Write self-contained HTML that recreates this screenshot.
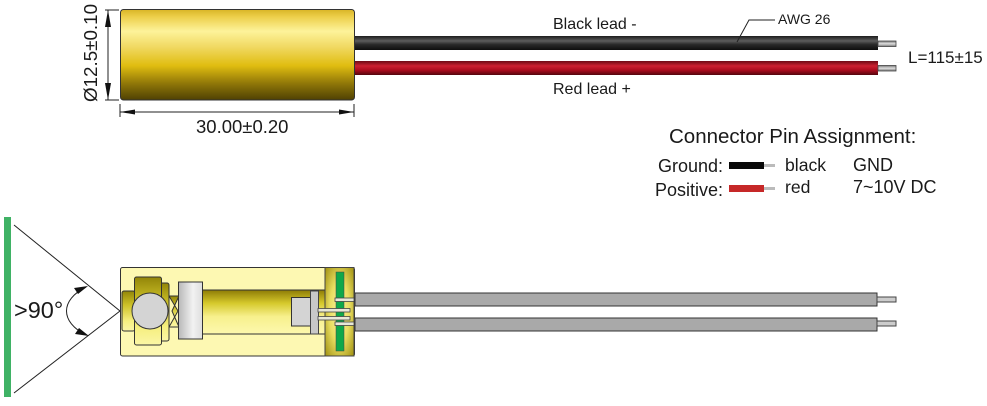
<!DOCTYPE html>
<html>
<head>
<meta charset="utf-8">
<style>
html,body{margin:0;padding:0;background:#fff;width:987px;height:406px;overflow:hidden}
svg{display:block}
text{font-family:"Liberation Sans",sans-serif;fill:#1a1a1a}
</style>
</head>
<body>
<svg width="987" height="406" viewBox="0 0 987 406" xmlns="http://www.w3.org/2000/svg">
<defs>
<linearGradient id="brass" x1="0" y1="0" x2="0" y2="1">
<stop offset="0" stop-color="#d9b526"/><stop offset=".08" stop-color="#edcf4a"/><stop offset=".24" stop-color="#fdf39a"/><stop offset=".42" stop-color="#f0d860"/><stop offset=".62" stop-color="#e0bd10"/><stop offset=".82" stop-color="#8f7608"/><stop offset="1" stop-color="#4f4103"/>
</linearGradient>
<linearGradient id="blk" x1="0" y1="0" x2="0" y2="1">
<stop offset="0" stop-color="#1c1c1c"/><stop offset=".35" stop-color="#5c5c5c"/><stop offset=".6" stop-color="#2a2a2a"/><stop offset="1" stop-color="#0e0e0e"/>
</linearGradient>
<linearGradient id="red" x1="0" y1="0" x2="0" y2="1">
<stop offset="0" stop-color="#6c0a14"/><stop offset=".35" stop-color="#cc2030"/><stop offset=".65" stop-color="#ac0c1e"/><stop offset="1" stop-color="#54060e"/>
</linearGradient>
<linearGradient id="tip" x1="0" y1="0" x2="0" y2="1">
<stop offset="0" stop-color="#777"/><stop offset=".5" stop-color="#ddd"/><stop offset="1" stop-color="#777"/>
</linearGradient>
<linearGradient id="tube" x1="0" y1="0" x2="0" y2="1">
<stop offset="0" stop-color="#8d7b06"/><stop offset=".3" stop-color="#d6c92c"/><stop offset=".6" stop-color="#f7f08c"/><stop offset="1" stop-color="#fdf8ae"/>
</linearGradient>
<linearGradient id="part" x1="0" y1="0" x2="0" y2="1">
<stop offset="0" stop-color="#928508"/><stop offset=".35" stop-color="#cdc128"/><stop offset=".75" stop-color="#f6ef80"/><stop offset="1" stop-color="#fbf6a6"/>
</linearGradient>
<linearGradient id="cyl" x1="0" y1="0" x2="1" y2="0">
<stop offset="0" stop-color="#b8b8b8"/><stop offset=".6" stop-color="#f2f2f2"/><stop offset="1" stop-color="#dedede"/>
</linearGradient>
<radialGradient id="cap" cx=".5" cy=".5" r=".7">
<stop offset="0" stop-color="#fbf4a0"/><stop offset=".5" stop-color="#e8dd60"/><stop offset="1" stop-color="#a09010"/>
</radialGradient>
</defs>

<!-- top wires -->
<rect x="354" y="36" width="524" height="14" fill="url(#blk)"/>
<rect x="354" y="61" width="524" height="14" fill="url(#red)"/>
<rect x="878" y="41" width="18" height="5.500" fill="url(#tip)" stroke="#444" stroke-width=".8"/>
<rect x="878" y="65.500" width="18" height="5.500" fill="url(#tip)" stroke="#444" stroke-width=".8"/>

<!-- top body -->
<rect x="120.500" y="9.500" width="234" height="90.500" rx="3" fill="url(#brass)" stroke="#333" stroke-width="1"/>

<!-- dimensions -->
<g stroke="#222" stroke-width="1" fill="none">
<path d="M105 10H119M105 100H119M108 10V100"/>
<path d="M120 104V117M354 104V117M120 112H354"/>
</g>
<g fill="#111">
<path d="M108 10L105 27H111Z"/>
<path d="M108 100L105 83H111Z"/>
<path d="M120 112L135 109.500V114.500Z"/>
<path d="M354 112L339 109.500V114.500Z"/>
</g>
<text transform="translate(97,102) rotate(-90)" font-size="18.800">Ø12.5±0.10</text>
<text x="196" y="133" font-size="18.500">30.00±0.20</text>

<!-- wire labels -->
<text x="553" y="29" font-size="16">Black lead -</text>
<text x="553" y="94" font-size="16">Red lead +</text>
<path d="M737 42L749 20H775" stroke="#222" stroke-width="1" fill="none"/>
<text x="778" y="24" font-size="14">AWG 26</text>
<text x="908" y="63" font-size="17">L=115±15</text>

<!-- pin assignment -->
<text x="669" y="143" font-size="20.500">Connector Pin Assignment:</text>
<text x="658" y="172" font-size="18">Ground:</text>
<text x="655" y="196" font-size="18">Positive:</text>
<rect x="729" y="162" width="35" height="7" fill="#080808"/>
<rect x="764" y="164" width="11" height="3" fill="#bbb"/>
<rect x="729" y="185" width="35" height="7" fill="#c62828"/>
<rect x="764" y="187" width="11" height="3" fill="#bbb"/>
<text x="785" y="171" font-size="17.600">black</text>
<text x="785" y="193" font-size="17.600">red</text>
<text x="853" y="171" font-size="18">GND</text>
<text x="853" y="193" font-size="18">7~10V DC</text>

<!-- beam -->
<rect x="4" y="217" width="7" height="180" fill="#3fb265"/>
<path d="M14 225L120 311L14 393" stroke="#222" stroke-width="1" fill="none"/>
<path d="M86 287C60 300 60 322 86 335" stroke="#222" stroke-width="1" fill="none"/>
<path d="M88 286L74 288L78 294Z" fill="#111"/>
<path d="M89 336L75 334L79 328Z" fill="#111"/>
<text x="14" y="318" font-size="23.500">&gt;90°</text>

<!-- lower wires -->
<rect x="355" y="293" width="522" height="13" fill="#a9a9a9" stroke="#333" stroke-width="1"/>
<rect x="355" y="318" width="522" height="13" fill="#a9a9a9" stroke="#333" stroke-width="1"/>
<rect x="877" y="297" width="19" height="5" fill="#ccc" stroke="#444" stroke-width="1"/>
<rect x="877" y="321" width="19" height="5" fill="#ccc" stroke="#444" stroke-width="1"/>

<!-- lower body -->
<rect x="120.500" y="267.500" width="234" height="88.500" rx="2" fill="#fdf8b2" stroke="#333" stroke-width="1"/>
<rect x="202" y="290" width="123" height="44" fill="url(#tube)" stroke="#333" stroke-width="1"/>
<rect x="325" y="267.500" width="29" height="88.500" fill="url(#cap)" stroke="#444" stroke-width="1"/>

<rect x="122" y="291" width="13" height="40" rx="2" fill="url(#part)" stroke="#333" stroke-width="1"/>
<rect x="169" y="296" width="10" height="31" fill="url(#part)" stroke="#333" stroke-width="1"/>
<path d="M169 296L178 311L169 327M179 296L172 311L179 327" fill="#fdf8b2" stroke="#333" stroke-width="1"/>
<rect x="160" y="283" width="9" height="58" rx="2" fill="url(#part)" stroke="#333" stroke-width="1"/>
<rect x="134.500" y="277" width="27" height="68" rx="2" fill="url(#part)" stroke="#333" stroke-width="1"/>
<circle cx="150" cy="311" r="18" fill="#d4d4d4" stroke="#333" stroke-width="1"/>
<rect x="178.500" y="282" width="24" height="57" fill="url(#cyl)" stroke="#333" stroke-width="1"/>

<rect x="291.500" y="297.500" width="19" height="28.500" fill="#d4d4d4" stroke="#333" stroke-width="1"/>
<rect x="310.500" y="291" width="8" height="43" fill="#c8c8c8" stroke="#444" stroke-width="1"/>
<rect x="336" y="272" width="8" height="79" fill="#0fa84a" stroke="#444" stroke-width=".5"/>
<rect x="318" y="308.500" width="32" height="3.500" fill="#e8e8d8" stroke="#444" stroke-width=".8"/>
<rect x="318" y="316.500" width="32" height="3.500" fill="#e8e8d8" stroke="#444" stroke-width=".8"/>
<rect x="335" y="298" width="19" height="3.500" fill="#e8e8d8" stroke="#444" stroke-width=".8"/>
<rect x="335" y="322" width="19" height="3.500" fill="#e8e8d8" stroke="#444" stroke-width=".8"/>
</svg>
</body>
</html>
